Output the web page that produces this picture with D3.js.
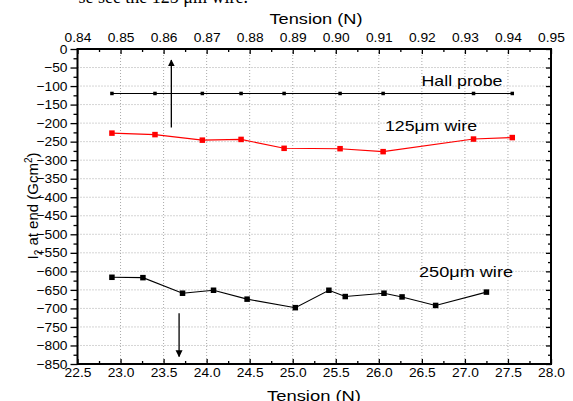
<!DOCTYPE html>
<html><head><meta charset="utf-8">
<script src="https://cdn.jsdelivr.net/npm/d3@7"></script>
<style>
body{margin:0;background:#fff;}
svg{display:block;font-family:Arial,"Liberation Sans",sans-serif;}
</style></head>
<body><svg id="c" width="573" height="401"></svg>
<script>
// ---- data ----
const hallX = [22.90, 23.40, 23.95, 24.40, 24.90, 25.55, 26.05, 27.10, 27.55];
const hallY = [-120, -120, -120, -120, -120, -120, -120, -120, -120];
const w125X = [22.90, 23.40, 23.95, 24.40, 24.90, 25.55, 26.05, 27.10, 27.55];
const w125Y = [-227, -231, -246, -244, -268, -269, -277, -243, -239];
const w250X = [22.90, 23.26, 23.72, 24.08, 24.47, 25.03, 25.42, 25.61, 26.06, 26.27, 26.66, 27.25];
const w250Y = [-616, -617, -659, -651, -675, -698, -651, -668, -659, -669, -692, -656];
const xTicks = [22.5, 23.0, 23.5, 24.0, 24.5, 25.0, 25.5, 26.0, 26.5, 27.0, 27.5, 28.0];
const topTicks = [0.84, 0.85, 0.86, 0.87, 0.88, 0.89, 0.90, 0.91, 0.92, 0.93, 0.94, 0.95];
const yTicks = d3.range(0, -851, -50);
const seriesLabels = ["Hall probe", "125\u03bcm wire", "250\u03bcm wire"];
const upArrow = {x: 23.59, y0: -212, y1: -30};
const downArrow = {x: 23.68, y0: -713, y1: -830};

// ---- layout ----
const L = 77.5, R = 551, T = 49, B = 364;
const svg = d3.select("#c");
const x = d3.scaleLinear().domain([22.5, 28.0]).range([L, R]);
const xt = d3.scaleLinear().domain([0.84, 0.95]).range([L, R]);
const y = d3.scaleLinear().domain([-850, 0]).range([B, T]);

const defs = svg.append("defs");
defs.append("marker").attr("id","ah").attr("viewBox","0 0 10 10").attr("refX",9).attr("refY",5)
  .attr("markerWidth",7).attr("markerHeight",9).attr("markerUnits","userSpaceOnUse").attr("orient","auto")
  .append("path").attr("d","M0,0 L10,5 L0,10 Z").attr("fill","#000");

// top clipped text artifact
svg.append("text").attr("x", 248).attr("y", 3).attr("text-anchor","end")
  .attr("font-family","'Liberation Serif','Times New Roman',serif").attr("font-size",18)
  .text("se see the 125 \u03bcm wire.");

// grid
const g = svg.append("g");
g.selectAll(".vg").data(xTicks.slice(1, -1)).join("line")
  .attr("x1", d => x(d)).attr("x2", d => x(d)).attr("y1", T).attr("y2", B)
  .attr("stroke", "#aaa").attr("stroke-width", 1).attr("stroke-dasharray", "1,2");
g.selectAll(".hg").data(yTicks.slice(1, -1)).join("line")
  .attr("x1", L).attr("x2", R).attr("y1", d => y(d)).attr("y2", d => y(d))
  .attr("stroke", "#aaa").attr("stroke-width", 1).attr("stroke-dasharray", "1,2");

// axes
const minorX = d3.range(22.75, 28, 0.5);
const minorTop = d3.range(0.845, 0.95, 0.01);
const minorY = d3.range(-25, -850, -50);

const axB = svg.append("g").attr("transform", `translate(0,${B})`)
  .call(d3.axisBottom(x).tickValues(xTicks).tickFormat(d3.format(".1f")).tickSize(-5).tickPadding(4));
const axBm = svg.append("g").attr("transform", `translate(0,${B})`)
  .call(d3.axisBottom(x).tickValues(minorX).tickFormat("").tickSize(-3));
const axT = svg.append("g").attr("transform", `translate(0,${T})`)
  .call(d3.axisTop(xt).tickValues(topTicks).tickFormat(d3.format(".2f")).tickSize(-5).tickPadding(7));
const axTm = svg.append("g").attr("transform", `translate(0,${T})`)
  .call(d3.axisTop(xt).tickValues(minorTop).tickFormat("").tickSize(-3));
const axL = svg.append("g").attr("transform", `translate(${L},0)`)
  .call(d3.axisLeft(y).tickValues(yTicks).tickFormat(d3.format("d")).tickSize(7).tickPadding(3));
const axLm = svg.append("g").attr("transform", `translate(${L},0)`)
  .call(d3.axisLeft(y).tickValues(minorY).tickFormat("").tickSize(4));
const axR = svg.append("g").attr("transform", `translate(${R},0)`)
  .call(d3.axisRight(y).tickValues(yTicks).tickFormat("").tickSize(-5));
const axRm = svg.append("g").attr("transform", `translate(${R},0)`)
  .call(d3.axisRight(y).tickValues(minorY).tickFormat("").tickSize(-3));
[axB, axBm, axT, axTm, axL, axLm, axR, axRm].forEach(a => {
  a.select(".domain").remove();
  a.selectAll("line").attr("stroke", "#000").attr("stroke-width", 1.3);
  a.selectAll("text").attr("font-size", 13).attr("fill", "#000")
    .attr("font-family", "Arial,'Liberation Sans',sans-serif").classed("stretch", true);
});
axB.selectAll("text").attr("dy", "0.71em");
// frame
svg.append("rect").attr("x", L).attr("y", T).attr("width", R - L).attr("height", B - T)
  .attr("fill", "none").attr("stroke", "#000").attr("stroke-width", 2);

// series
function drawSeries(xs, ys, color, size) {
  const pts = xs.map((v, i) => [v, ys[i]]);
  svg.append("path").datum(pts)
    .attr("d", d3.line().x(d => x(d[0])).y(d => y(d[1])))
    .attr("fill", "none").attr("stroke", color).attr("stroke-width", 1.1);
  svg.append("g").selectAll("rect").data(pts).join("rect")
    .attr("x", d => x(d[0]) - size / 2).attr("y", d => y(d[1]) - size / 2)
    .attr("width", size).attr("height", size).attr("fill", color);
}
drawSeries(hallX, hallY, "#000", 3.5);
drawSeries(w125X, w125Y, "#ff0000", 5.5);
drawSeries(w250X, w250Y, "#000", 5.5);

// arrows
[upArrow, downArrow].forEach(a => {
  svg.append("line").attr("x1", x(a.x)).attr("x2", x(a.x)).attr("y1", y(a.y0)).attr("y2", y(a.y1))
    .attr("stroke", "#000").attr("stroke-width", 1.3).attr("marker-end", "url(#ah)");
});

// series labels
const lab = [[seriesLabels[0], 421.5, 86, 81], [seriesLabels[1], 385, 131, 92], [seriesLabels[2], 419, 277, 94]];
lab.forEach(l => {
  svg.append("text").attr("x", l[1]).attr("y", l[2]).attr("font-size", 15)
    .attr("textLength", l[3]).attr("lengthAdjust", "spacingAndGlyphs").text(l[0]);
});

// axis titles
svg.append("text").attr("x", 316).attr("y", 24).attr("text-anchor", "middle").attr("font-size", 15)
  .attr("textLength", 93).attr("lengthAdjust", "spacingAndGlyphs").text("Tension (N)");
svg.append("text").attr("x", 314).attr("y", 401).attr("text-anchor", "middle").attr("font-size", 15)
  .attr("textLength", 94).attr("lengthAdjust", "spacingAndGlyphs").text("Tension (N)");
const yl = svg.append("text").attr("transform", "translate(38,206) rotate(-90)")
  .attr("text-anchor", "middle").attr("font-size", 15);
yl.append("tspan").text("I");
yl.append("tspan").attr("font-size", 10).attr("dy", 4).text("2");
yl.append("tspan").attr("dy", -4).text(" at end (Gcm");
yl.append("tspan").attr("font-size", 10).attr("dy", -6).text("2");
yl.append("tspan").attr("dy", 6).text(")");

// slight horizontal stretch of tick labels
svg.selectAll("text.stretch").each(function () {
  const len = this.getComputedTextLength();
  if (len > 0) d3.select(this).attr("textLength", len * 1.06).attr("lengthAdjust", "spacingAndGlyphs");
});
</script></body></html>
